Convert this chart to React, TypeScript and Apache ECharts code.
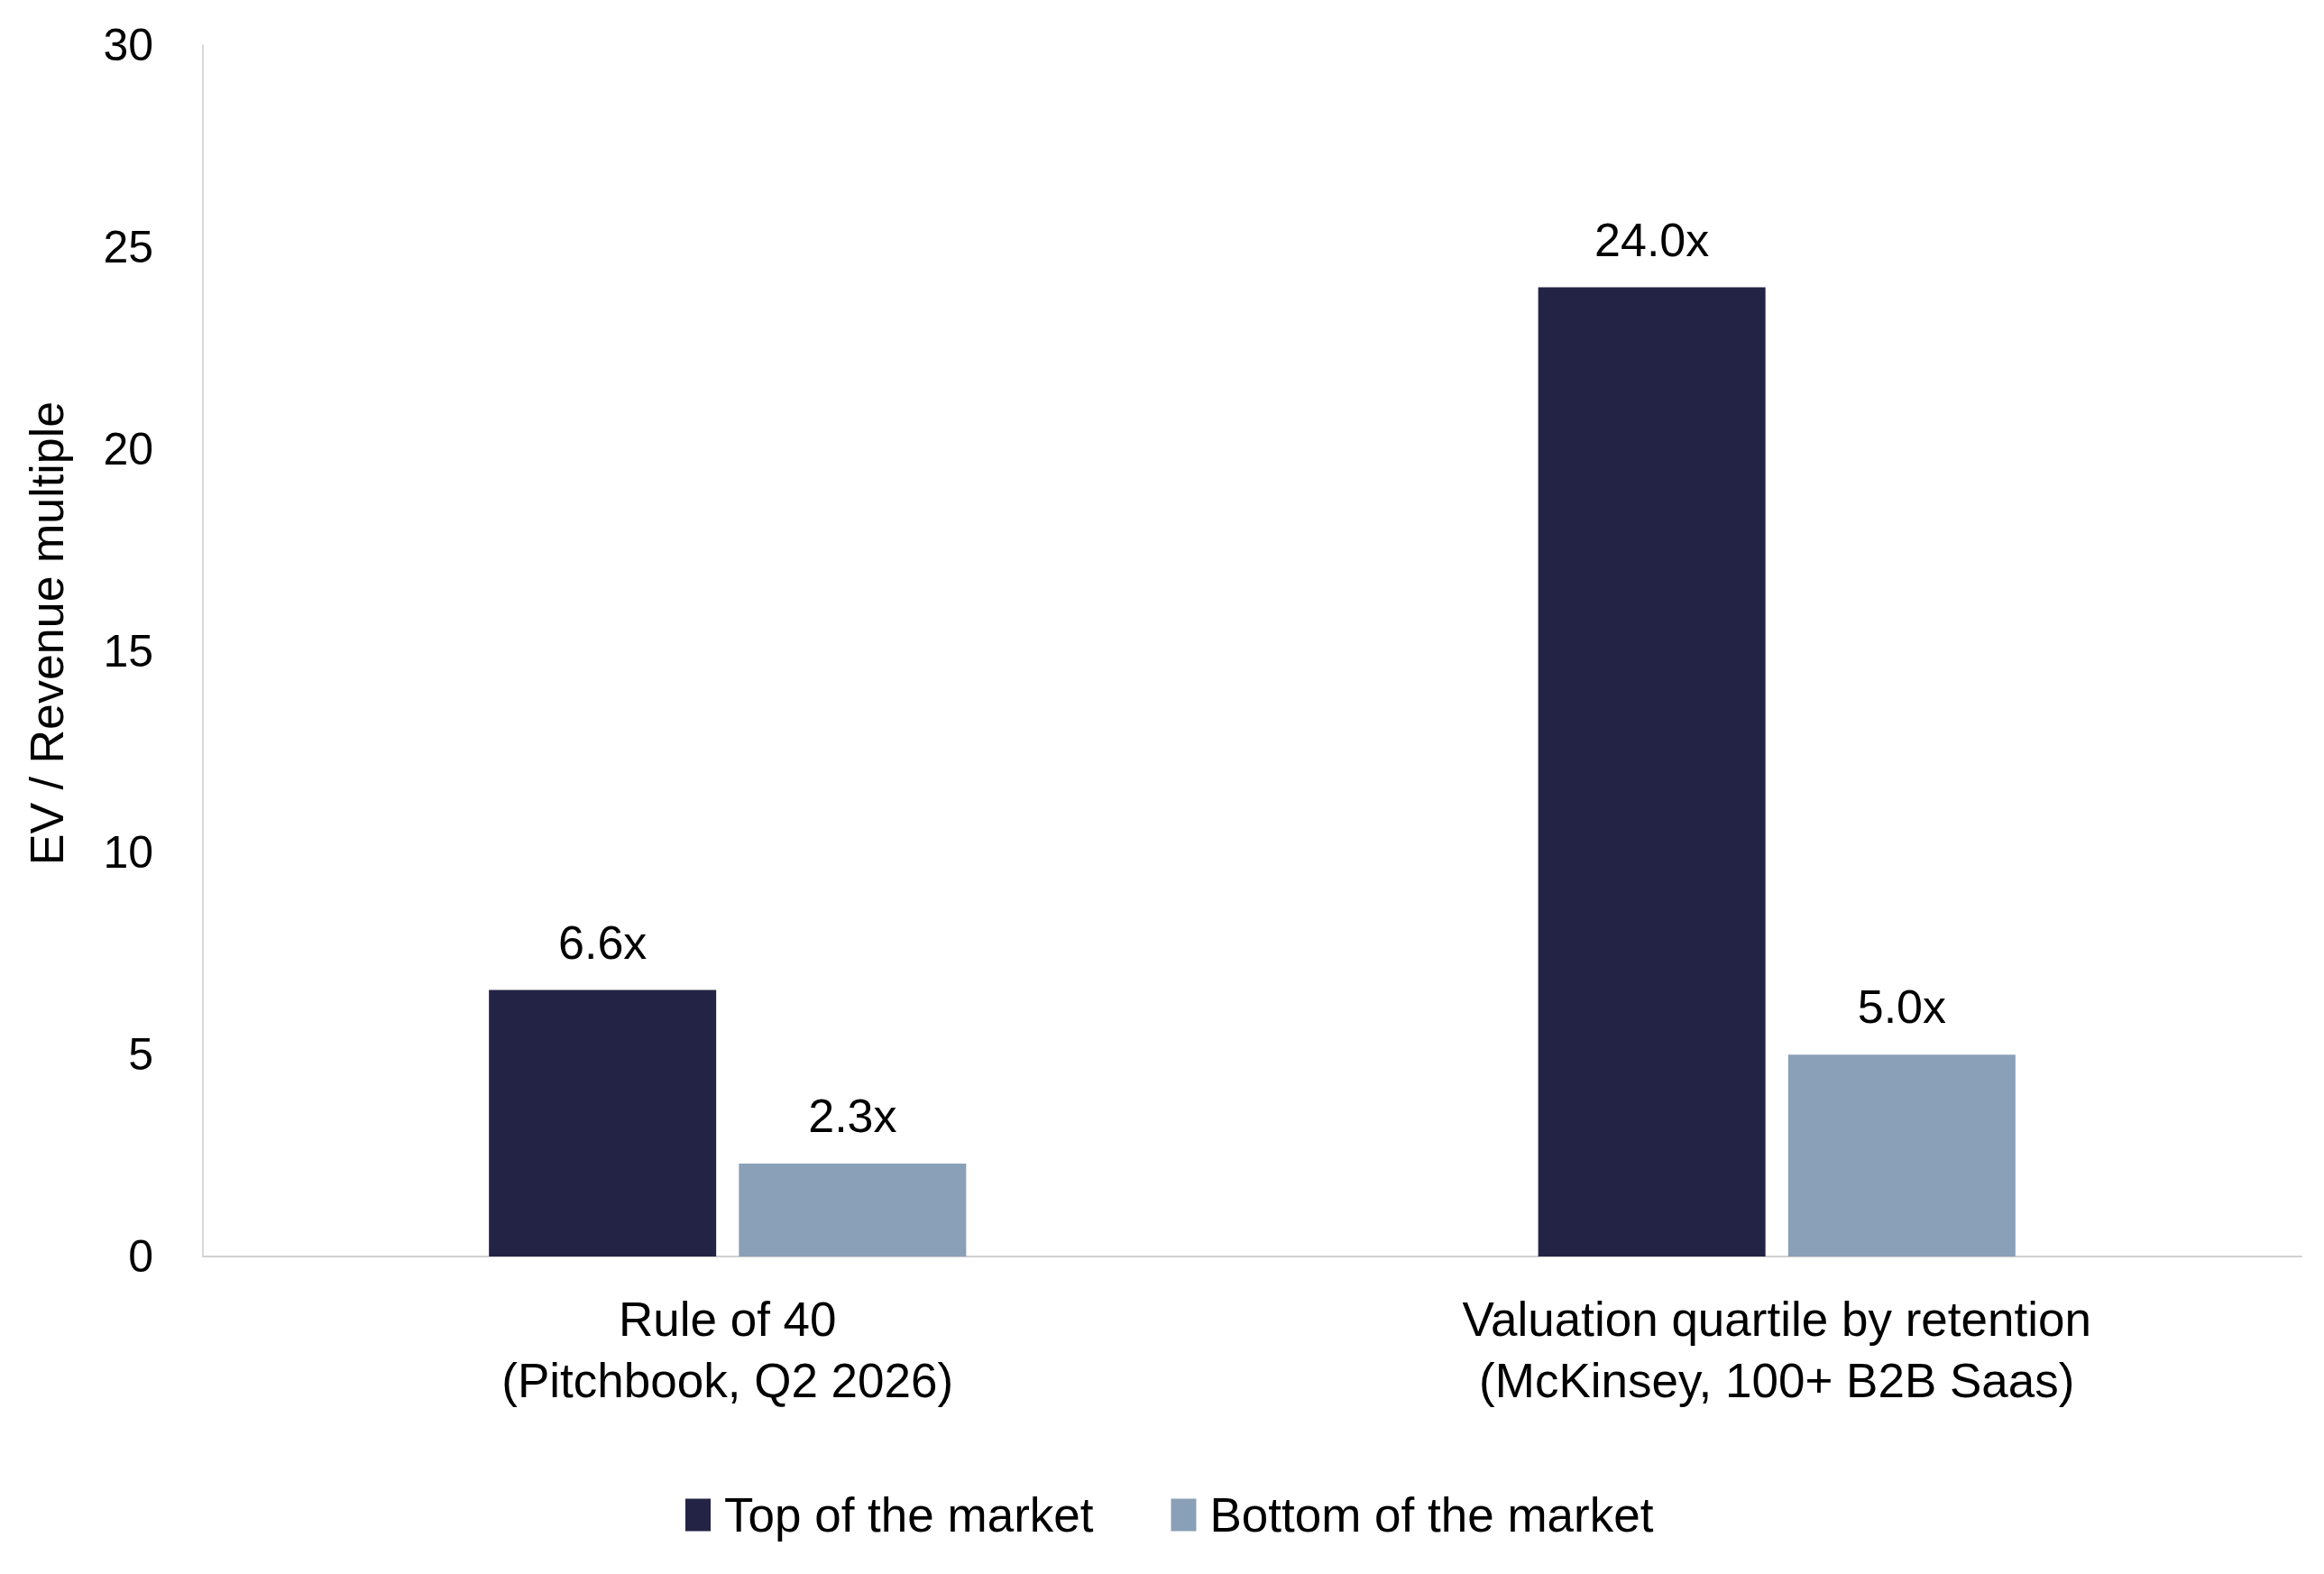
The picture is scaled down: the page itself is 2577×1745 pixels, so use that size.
import { useRef, useEffect } from 'react'
import * as echarts from 'echarts'

const categories = ['Rule of 40\n(Pitchbook, Q2 2026)', 'Valuation quartile by retention\n(McKinsey, 100+ B2B Saas)']
const seriesNames = ['Top of the market', 'Bottom of the market']
const topValues = [6.6, 24.0]
const bottomValues = [2.3, 5.0]
const yTicks = [0, 5, 10, 15, 20, 25, 30]
const yTitle = 'EV / Revenue multiple'

const FONT = '"Liberation Sans", Arial, sans-serif'
const DARK = '#232345'
const LIGHT = '#8AA0B8'

export default function App() {
  const chartRef = useRef<HTMLDivElement>(null)

  useEffect(() => {
    document.body.style.margin = '0'
    if (!chartRef.current) return
    const chart = echarts.init(chartRef.current, undefined, { renderer: 'svg' })

    const label = {
      show: true,
      position: 'top' as const,
      distance: 27,
      fontSize: 52,
      fontFamily: FONT,
      color: '#000',
      formatter: (p: any) => `${Number(p.value).toFixed(1)}x`
    }

    chart.setOption({
      animation: false,
      backgroundColor: '#fff',
      textStyle: { fontFamily: FONT },
      grid: { left: 225, right: 25, top: 50, bottom: 352 },
      graphic: [
        {
          type: 'text',
          x: 52,
          y: 702,
          rotation: Math.PI / 2,
          style: {
            text: yTitle,
            fontSize: 52,
            fontFamily: FONT,
            fill: '#000',
            align: 'center',
            verticalAlign: 'middle'
          }
        }
      ],
      legend: {
        data: seriesNames,
        left: 755,
        top: 1648,
        itemWidth: 28,
        itemHeight: 36,
        itemGap: 86,
        icon: 'rect',
        textStyle: { fontSize: 53, fontFamily: FONT, color: '#000', padding: [0, 0, 0, 10] }
      },
      xAxis: {
        type: 'category',
        data: categories,
        axisLine: { show: true, lineStyle: { color: '#d0d0d0', width: 2 } },
        axisTick: { show: false },
        axisLabel: {
          fontSize: 53,
          lineHeight: 68,
          color: '#000',
          fontFamily: FONT,
          margin: 35,
          interval: 0
        }
      },
      yAxis: {
        type: 'value',
        min: yTicks[0],
        max: yTicks[yTicks.length - 1],
        interval: 5,
        axisLine: { show: true, lineStyle: { color: '#d9d9d9', width: 2 } },
        axisTick: { show: false },
        splitLine: { show: false },
        axisLabel: { fontSize: 50, color: '#000', fontFamily: FONT, margin: 55 }
      },
      series: [
        {
          name: seriesNames[0],
          type: 'bar',
          data: topValues,
          barWidth: 252,
          barGap: '10%',
          itemStyle: { color: DARK },
          label
        },
        {
          name: seriesNames[1],
          type: 'bar',
          data: bottomValues,
          barWidth: 252,
          barGap: '10%',
          itemStyle: { color: LIGHT },
          label
        }
      ]
    })

    return () => {
      chart.dispose()
    }
  }, [])

  return <div ref={chartRef} style={{ width: '2577px', height: '1745px' }} />
}
